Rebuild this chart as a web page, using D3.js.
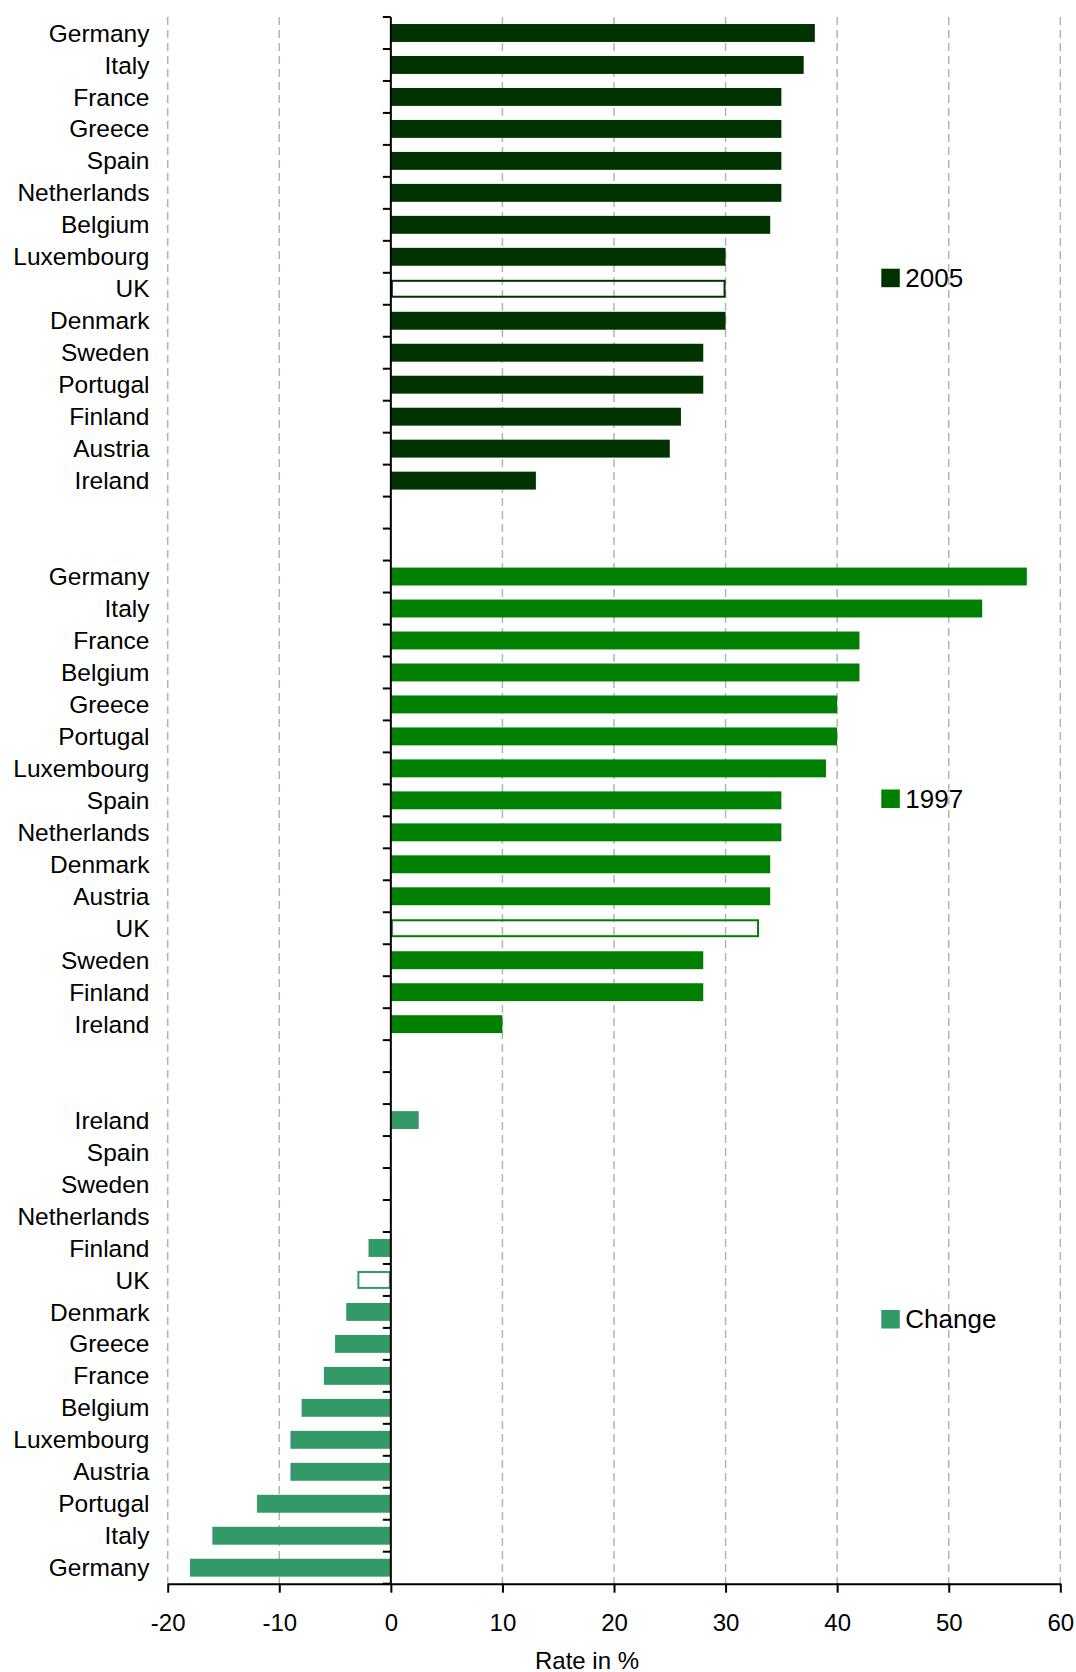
<!DOCTYPE html>
<html>
<head>
<meta charset="utf-8">
<script src="https://cdn.jsdelivr.net/npm/d3@7"></script>
<style>
    body { margin: 0; background: #fff; }
    text { font-family: "Liberation Sans", Arial, sans-serif; }
</style>
</head>
<body>
<svg id="chart"></svg>
<script>
// values, top to bottom in each block
const countries2005 = ["Germany", "Italy", "France", "Greece", "Spain", "Netherlands", "Belgium",
    "Luxembourg", "UK", "Denmark", "Sweden", "Portugal", "Finland", "Austria", "Ireland"];
const values2005 = [38, 37, 35, 35, 35, 35, 34, 30, 30, 30, 28, 28, 26, 25, 13];

const countries1997 = ["Germany", "Italy", "France", "Belgium", "Greece", "Portugal", "Luxembourg",
    "Spain", "Netherlands", "Denmark", "Austria", "UK", "Sweden", "Finland", "Ireland"];
const values1997 = [57, 53, 42, 42, 40, 40, 39, 35, 35, 34, 34, 33, 28, 28, 10];

const countriesChange = ["Ireland", "Spain", "Sweden", "Netherlands", "Finland", "UK", "Denmark",
    "Greece", "France", "Belgium", "Luxembourg", "Austria", "Portugal", "Italy", "Germany"];
const valuesChange = [2.5, 0, 0, 0, -2, -3, -4, -5, -6, -8, -9, -9, -12, -16, -18];

const seriesNames = ["2005", "1997", "Change"];
const xTicks = [-20, -10, 0, 10, 20, 30, 40, 50, 60];
const hollowCountry = "UK";

// series colours
const colorScale = d3.scaleOrdinal()
    .domain(seriesNames)
    .range(["#003300", "#008000", "#339966"]);

// building one row list with two empty slots between the blocks
const blocks = [
    { name: "2005", countries: countries2005, values: values2005 },
    { name: "1997", countries: countries1997, values: values1997 },
    { name: "Change", countries: countriesChange, values: valuesChange }
];
const rows = [];
blocks.forEach((b, bi) => {
    b.countries.forEach((c, i) => {
        rows.push({ key: b.name + "-" + c, country: c, value: b.values[i], series: b.name });
    });
    if (bi < blocks.length - 1) {
        rows.push({ key: b.name + "-gap1", gap: true });
        rows.push({ key: b.name + "-gap2", gap: true });
    }
});

// dimensions of the graph
const width = 1076,
    height = 1672,
    plotLeft = 167.7,
    plotRight = 1060.3,
    plotTop = 17,
    plotBottom = 1583.7;

const svg = d3.select("#chart")
    .attr("width", width)
    .attr("height", height)
    .attr("viewBox", `0 0 ${width} ${height}`);

const xScale = d3.scaleLinear()
    .domain([-20, 60])
    .range([plotLeft, plotRight]);

const yScale = d3.scaleBand()
    .domain(rows.map(d => d.key))
    .range([plotTop, plotBottom])
    .paddingInner(0.44)
    .paddingOuter(0.22);

const step = yScale.step();

// dashed gridlines
svg.append("g")
    .attr("class", "grid")
    .selectAll("line")
    .data(xTicks.filter(t => t !== 0))
    .join("line")
    .attr("x1", d => xScale(d))
    .attr("x2", d => xScale(d))
    .attr("y1", plotTop)
    .attr("y2", plotBottom)
    .attr("stroke", "#b4b4b4")
    .attr("stroke-width", 1.5)
    .attr("stroke-dasharray", "8,5");

// bars (the hollow one is drawn as an outline only)
const bars = rows.filter(d => !d.gap);
const isHollow = d => d.country === hollowCountry;
svg.append("g")
    .attr("class", "bars")
    .selectAll("rect")
    .data(bars)
    .join("rect")
    .attr("x", d => Math.min(xScale(0), xScale(d.value)) + (isHollow(d) ? 1 : 0))
    .attr("y", d => yScale(d.key) + (isHollow(d) ? 1 : 0))
    .attr("width", d => Math.max(0, Math.abs(xScale(d.value) - xScale(0)) - (isHollow(d) ? 2 : 0)))
    .attr("height", d => yScale.bandwidth() - (isHollow(d) ? 2 : 0))
    .attr("fill", d => isHollow(d) ? "none" : colorScale(d.series))
    .attr("stroke", d => isHollow(d) ? colorScale(d.series) : "none")
    .attr("stroke-width", 2);

// category labels
svg.append("g")
    .attr("class", "labels")
    .selectAll("text")
    .data(bars)
    .join("text")
    .attr("x", 149.5)
    .attr("y", d => yScale(d.key) + yScale.bandwidth() / 2)
    .attr("dy", "0.35em")
    .attr("text-anchor", "end")
    .style("font-size", "24.5px")
    .style("fill", "#000")
    .text(d => d.country);

// y axis line with ticks between every slot
const yAxisGroup = svg.append("g").attr("class", "y-axis");
yAxisGroup.selectAll("line.tick")
    .data(d3.range(rows.length + 1))
    .join("line")
    .attr("class", "tick")
    .attr("x1", xScale(0) - 8)
    .attr("x2", xScale(0))
    .attr("y1", i => plotTop + i * step)
    .attr("y2", i => plotTop + i * step)
    .attr("stroke", "#000")
    .attr("stroke-width", 2);
yAxisGroup.append("line")
    .attr("x1", xScale(0))
    .attr("x2", xScale(0))
    .attr("y1", plotTop)
    .attr("y2", plotBottom)
    .attr("stroke", "#000")
    .attr("stroke-width", 2);

// x axis, plain hyphen for negatives like the original
const xAxisGroup = svg.append("g")
    .attr("class", "x-axis")
    .attr("transform", `translate(0,${plotBottom})`)
    .call(d3.axisBottom(xScale)
        .tickValues(xTicks)
        .tickSize(9)
        .tickSizeOuter(0)
        .tickPadding(21)
        .tickFormat(d => String(d)));

xAxisGroup.select(".domain")
    .attr("stroke", "#000")
    .attr("stroke-width", 2);
xAxisGroup.selectAll(".tick line")
    .attr("stroke", "#000")
    .attr("stroke-width", 2);
xAxisGroup.selectAll(".tick text")
    .style("font-size", "24px")
    .style("font-family", "'Liberation Sans', Arial, sans-serif")
    .style("fill", "#000");

// axis title
svg.append("text")
    .attr("class", "x-label")
    .attr("x", 587)
    .attr("y", 1668.5)
    .attr("text-anchor", "middle")
    .style("font-size", "24px")
    .style("fill", "#000")
    .text("Rate in %");

// legends, one per block
const legendY = [277.7, 798.5, 1319];
const legend = svg.append("g")
    .attr("class", "legend")
    .selectAll("g")
    .data(seriesNames)
    .join("g")
    .attr("transform", (d, i) => `translate(881.3,${legendY[i]})`);

legend.append("rect")
    .attr("x", 0)
    .attr("y", -9)
    .attr("width", 18.5)
    .attr("height", 18.5)
    .attr("fill", d => colorScale(d));

legend.append("text")
    .attr("x", 24)
    .attr("y", 0)
    .attr("dy", "0.35em")
    .style("font-size", "26px")
    .style("fill", "#000")
    .text(d => d);
</script>
</body>
</html>
